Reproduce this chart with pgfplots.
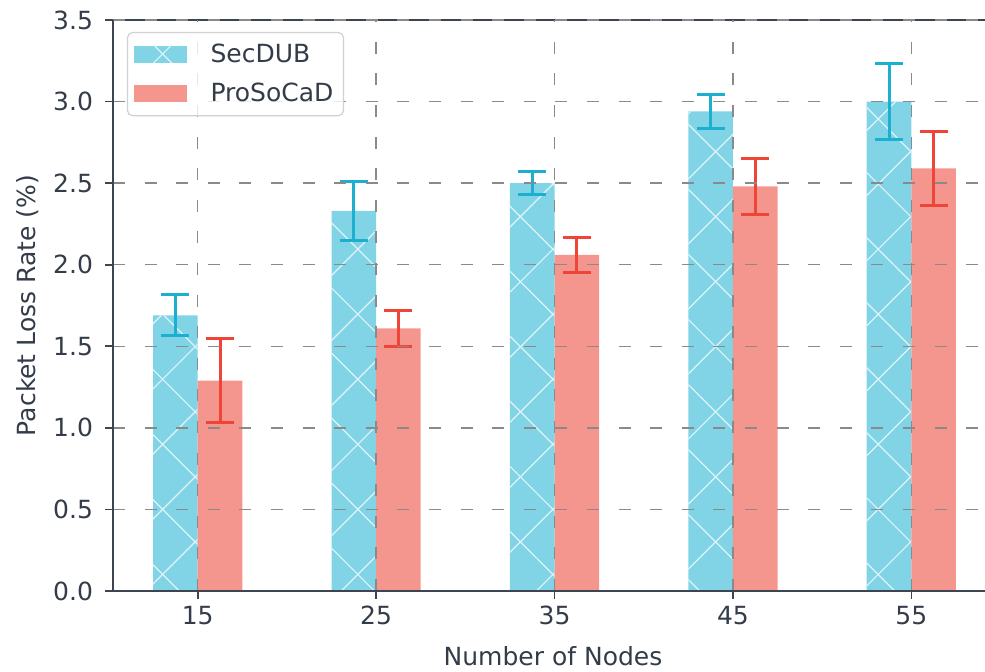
\documentclass[border=0pt]{standalone}
\usepackage{pgfplots}
\pgfplotsset{compat=1.18}
\usepackage{fontspec}
\setmainfont{DejaVu Sans}
\usetikzlibrary{patterns.meta}
\definecolor{secfill}{HTML}{80D4E6}
\definecolor{secerr}{HTML}{1BAFD0}
\definecolor{profill}{HTML}{F4968E}
\definecolor{proerr}{HTML}{EE4538}
\definecolor{spine}{HTML}{3D4552}
\definecolor{txt}{HTML}{333C48}
\definecolor{gridc}{HTML}{8A8A8A}
\pgfplotstableread{
x y e
13.75 1.69 0.125
23.75 2.33 0.18
33.75 2.50 0.07
43.75 2.94 0.105
53.75 3.00 0.233
}\secdub
\pgfplotstableread{
x y e
16.25 1.29 0.255
26.25 1.61 0.11
36.25 2.06 0.107
46.25 2.48 0.17
56.25 2.59 0.226
}\prosocad
\begin{document}
\begin{tikzpicture}
\begin{axis}[
  at={(0,0)}, anchor=south west,
  width=436pt, height=285.5pt, scale only axis,
  xmin=10.25, xmax=59.13, ymin=0, ymax=3.5,
  axis lines=left, axis line style={-, draw=spine, line width=0.8pt},
  tick align=outside, major tick length=4pt,
  tick style={draw=spine, line width=0.8pt},
  xtick={15,25,35,45,55}, ytick={0,0.5,...,3.5},
  yticklabel style={/pgf/number format/.cd, fixed, fixed zerofill, precision=1, /tikz/.cd, xshift=-2.5pt},
  /pgf/number format/assume math mode=true,
  ticklabel style={font=\fontsize{12.5}{15}\selectfont, text=txt},
  grid=major,
  major grid style={draw=gridc, line width=0.7pt, dash pattern=on 6pt off 9.8pt},
  axis on top,
  every axis y label/.style={at={(axis description cs:-0.098,0.5)}, rotate=90, anchor=center, font=\fontsize{12.5}{15}\selectfont, text=txt},
  every axis x label/.style={at={(axis description cs:0.5046,-0.1138)}, anchor=center, font=\fontsize{12.5}{15}\selectfont, text=txt},
  xlabel={Number of Nodes},
  ylabel={Packet Loss Rate (\%)},
  ybar, bar width=2.5, bar shift=0pt,
  legend style={at={(0.016,0.979)}, anchor=north west, draw=black!18, line width=0.6pt,
    rounded corners=2.5pt, fill=white, fill opacity=0.8, text opacity=1,
    font=\fontsize{12.5}{15}\selectfont, text=txt,
    inner xsep=3pt, inner ysep=3.5pt, row sep=5pt},
  legend cell align=left,
  legend image code/.code={\path[#1, sharp corners, fill opacity=1] (0pt,-4.25pt) rectangle (26.5pt,4.25pt);
    \path (36.5pt,0pt);},
]
\addplot[fill=secfill, draw=none,
  postaction={pattern={Lines[angle=45,distance=23pt,line width=0.6pt]}, pattern color=white!75!secfill},
  postaction={pattern={Lines[angle=-45,distance=23pt,line width=0.6pt]}, pattern color=white!75!secfill},
  error bars/.cd, y dir=both, y explicit,
  error bar style={draw=secerr, line width=1.5pt},
  error mark options={rotate=90, mark size=7pt, draw=secerr, line width=1.5pt}]
  table[x=x, y=y, y error=e] {\secdub};
\addlegendentry{SecDUB}
\addplot[fill=profill, draw=none,
  error bars/.cd, y dir=both, y explicit,
  error bar style={draw=proerr, line width=1.5pt},
  error mark options={rotate=90, mark size=7pt, draw=proerr, line width=1.5pt}]
  table[x=x, y=y, y error=e] {\prosocad};
\addlegendentry{ProSoCaD}
\draw[spine, line width=0.8pt] (rel axis cs:0,1) -- (rel axis cs:1,1);
\end{axis}
\pgfresetboundingbox
\path[use as bounding box] (-56.5pt,-40.5pt) rectangle (436pt,295.5pt);
\end{tikzpicture}
\end{document}
